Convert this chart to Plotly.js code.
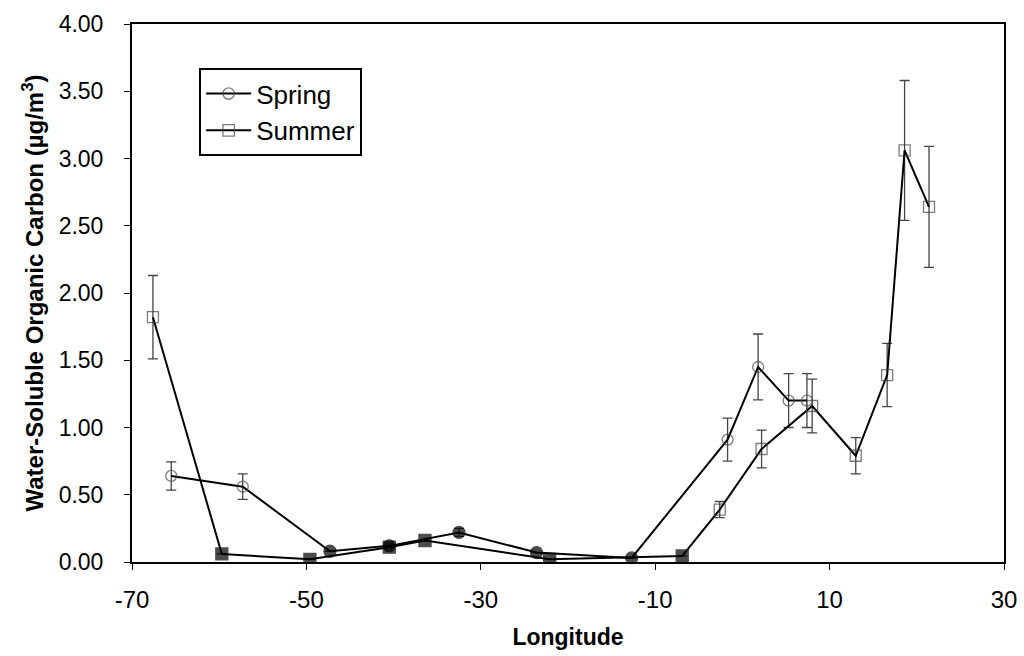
<!DOCTYPE html>
<html>
<head>
<meta charset="utf-8">
<script src="https://cdn.plot.ly/plotly-3.0.1.min.js"></script>
<style>html,body{margin:0;padding:0;background:#fff}#chart{width:1024px;height:656px}</style>
</head>
<body>
<div id="chart"></div>
<script>
// Spring series
var springLon = [-65.5, -57.3, -47.3, -40.5, -32.5, -23.6, -12.7, -1.7, 1.8, 5.3, 7.4];
var springWSOC = [0.64, 0.56, 0.08, 0.12, 0.22, 0.07, 0.03, 0.91, 1.45, 1.20, 1.20];
var springErr = [0.105, 0.095, 0.0, 0.0, 0.03, 0.0, 0.0, 0.16, 0.245, 0.20, 0.20];
var springSolid = [false, false, true, true, true, true, true, false, false, false, false];

// Summer series
var summerLon = [-67.6, -59.7, -49.6, -40.5, -36.4, -22.1, -6.9, -2.6, 2.2, 8.0, 13.0, 16.6, 18.6, 21.4];
var summerWSOC = [1.82, 0.06, 0.02, 0.11, 0.16, 0.02, 0.045, 0.39, 0.84, 1.16, 0.79, 1.39, 3.06, 2.64];
var summerErr = [0.31, 0.0, 0.0, 0.0, 0.0, 0.0, 0.0, 0.06, 0.14, 0.20, 0.135, 0.235, 0.52, 0.45];
var summerSolid = [false, true, true, true, true, true, true, false, false, false, false, false, false, false];

var xTicks = [-70, -50, -30, -10, 10, 30];
var yTicks = [0, 0.5, 1, 1.5, 2, 2.5, 3, 3.5, 4];

var FONT = 'Liberation Sans, Arial, sans-serif';

function mk(lon, val, err, solid, name, shape) {
  return {
    type: 'scatter', mode: 'lines+markers', name: name,
    x: lon, y: val,
    line: {color: '#000', width: 2},
    marker: {
      symbol: solid.map(function(s){ return s ? shape : shape + '-open'; }),
      color: solid.map(function(s){ return s ? '#000' : '#444'; }),
      size: solid.map(function(s){ return s ? 12 : 11; }),
      line: {width: 1.3, color: solid.map(function(s){ return s ? '#000' : '#444'; })}
    },
    error_y: {type: 'data', array: err, visible: true, color: '#444', thickness: 1.3, width: 5}
  };
}

var data = [
  mk(springLon, springWSOC, springErr, springSolid, 'Spring', 'circle'),
  mk(summerLon, summerWSOC, summerErr, summerSolid, 'Summer', 'square')
];

var layout = {
  width: 1024, height: 656,
  margin: {l: 132, r: 20, t: 24, b: 94},
  paper_bgcolor: '#fff', plot_bgcolor: '#fff',
  font: {family: FONT, size: 22, color: '#000'},
  showlegend: true,
  legend: {
    x: 0.077, y: 0.918, xanchor: 'left', yanchor: 'top',
    bgcolor: '#fff', bordercolor: '#000', borderwidth: 2,
    font: {family: FONT, size: 26, color: '#000'},
    tracegroupgap: 0, itemwidth: 45
  },
  xaxis: {
    range: [-70, 30], tickvals: xTicks, ticktext: xTicks.map(String),
    ticks: 'outside', ticklen: 6, tickwidth: 1, tickcolor: '#000',
    showline: true, linecolor: '#000', linewidth: 2, mirror: true,
    showgrid: false, zeroline: false, ticklabelstandoff: 9,
    tickfont: {size: 24, family: FONT},
    title: {text: '<b>Longitude</b>', font: {size: 23, family: FONT}, standoff: 17}
  },
  yaxis: {
    range: [0, 4], tickvals: yTicks, ticktext: yTicks.map(function(v){ return v.toFixed(2); }),
    ticks: 'outside', ticklen: 6, tickwidth: 1, tickcolor: '#000',
    showline: true, linecolor: '#000', linewidth: 2, mirror: true,
    showgrid: false, zeroline: false, ticklabelstandoff: 16,
    tickfont: {size: 23, family: FONT},
    title: {text: '<b>Water-Soluble Organic Carbon (µg/m<sup>3</sup>)</b>', font: {size: 24, family: FONT}, standoff: 8}
  }
};

Plotly.newPlot('chart', data, layout, {displayModeBar: false, staticPlot: true});
</script>
</body>
</html>
